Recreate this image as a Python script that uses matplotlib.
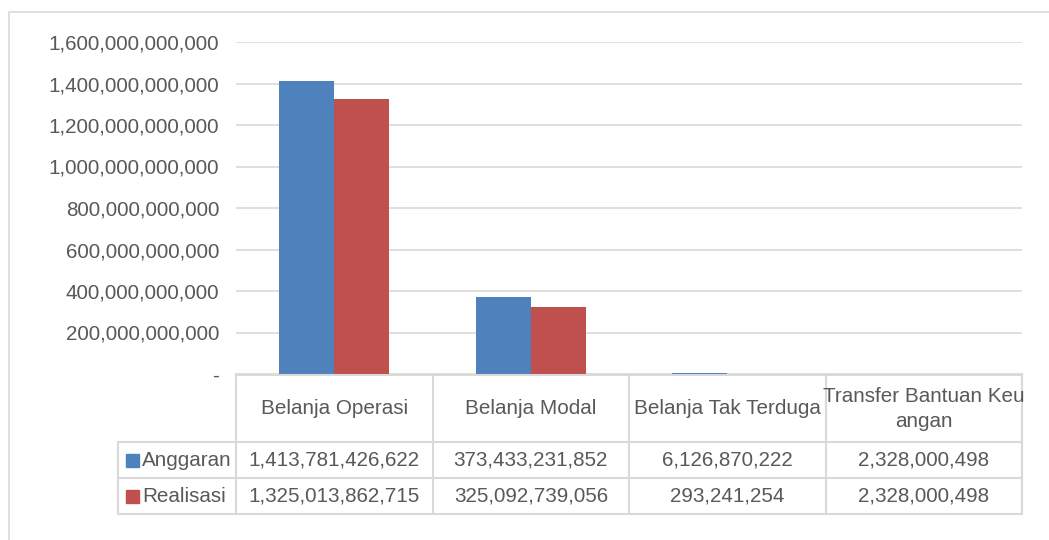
"""Anggaran vs Realisasi belanja, grouped bars with Excel-style data table."""

import matplotlib.pyplot as plt
from matplotlib.lines import Line2D
from matplotlib.patches import Rectangle
from matplotlib.transforms import blended_transform_factory
from matplotlib.ticker import FuncFormatter
import numpy as np

CATEGORIES = ["Belanja Operasi", "Belanja Modal", "Belanja Tak Terduga", "Transfer Bantuan Keu\nangan"]
SERIES = ["Anggaran", "Realisasi"]
ANGGARAN = [1413781426622, 373433231852, 6126870222, 2328000498]
REALISASI = [1325013862715, 325092739056, 293241254, 2328000498]
Y_TICKS = [0, 200e9, 400e9, 600e9, 800e9, 1000e9, 1200e9, 1400e9, 1600e9]

COLORS = ["#4f81bd", "#c0504d"]
TEXT = "#595959"
GRID = "#d9d9d9"
W, H = 1049, 540

plt.rcParams["font.family"] = ["Liberation Sans", "DejaVu Sans"]
FS = 14.9


def fy(y):
    return 1 - y / H


def fx(x):
    return x / W


fig = plt.figure(figsize=(W / 100, H / 100), dpi=100)
fig.patches.append(Rectangle((fx(9), fy(560)), 1.2, fy(12) - fy(560), transform=fig.transFigure,
                             fill=False, edgecolor=GRID, linewidth=1.2))

ax = fig.add_axes([fx(236), fy(374), fx(1022) - fx(236), fy(42) - fy(374)])
x = np.arange(len(CATEGORIES))
width = 0.28
ax.bar(x - width / 2, ANGGARAN, width, color=COLORS[0], zorder=3)
ax.bar(x + width / 2, REALISASI, width, color=COLORS[1], zorder=3)
ax.set_xlim(-0.5, len(CATEGORIES) - 0.5)
ax.set_ylim(0, 1600e9)
ax.set_yticks(Y_TICKS)
ax.yaxis.set_major_formatter(FuncFormatter(lambda v, p: "-" if v == 0 else f"{v:,.0f}"))
ax.tick_params(axis="y", length=0, pad=12, labelsize=FS, labelcolor=TEXT)
ax.set_xticks([])
ax.grid(axis="y", color=GRID, linewidth=1.2, zorder=0)
for s in ax.spines.values():
    s.set_visible(False)

# data table below the plot
trans = blended_transform_factory(ax.transData, fig.transFigure)
bounds = np.arange(len(CATEGORIES) + 1) - 0.5
line_kw = dict(color=GRID, linewidth=1.5, zorder=0)
for b in bounds:
    fig.lines.append(Line2D([b, b], [fy(374), fy(514)], transform=trans, **line_kw))
fig.lines.append(Line2D([fx(118), fx(118)], [fy(442), fy(514)], transform=fig.transFigure, **line_kw))
fig.lines.append(Line2D([fx(236), fx(1022)], [fy(374.5), fy(374.5)], transform=fig.transFigure, **line_kw))
for yy in (442, 478, 514):
    fig.lines.append(Line2D([fx(118), fx(1022)], [fy(yy), fy(yy)], transform=fig.transFigure, **line_kw))

for i, cat in enumerate(CATEGORIES):
    fig.text(x[i], fy(409), cat, transform=trans, ha="center", va="center",
             fontsize=FS, color=TEXT, linespacing=1.35)
    fig.text(x[i], fy(460), f"{ANGGARAN[i]:,}", transform=trans, ha="center", va="center",
             fontsize=FS, color=TEXT)
    fig.text(x[i], fy(496), f"{REALISASI[i]:,}", transform=trans, ha="center", va="center",
             fontsize=FS, color=TEXT)

for j, (name, col) in enumerate(zip(SERIES, COLORS)):
    yc = 460 + 36 * j
    fig.patches.append(Rectangle((fx(126), fy(yc + 6.5)), fx(13), fy(0) - fy(13),
                                 transform=fig.transFigure, color=col))
    fig.text(fx(142), fy(yc), name, ha="left", va="center", fontsize=FS, color=TEXT)

fig.savefig("out.png", dpi=100)
